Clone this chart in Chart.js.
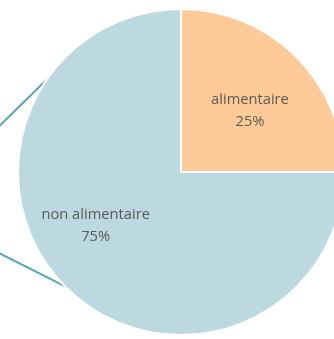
<!DOCTYPE html>
<html>
<head>
<meta charset="utf-8">
<script src="https://cdn.jsdelivr.net/npm/chart.js@4/dist/chart.umd.min.js"></script>
<style>
    html, body { margin: 0; padding: 0; overflow: hidden; background: #fff; width: 334px; height: 339px; }
    #wrap { position: absolute; left: 0; top: 0; width: 346px; height: 339px; }
</style>
</head>
<body>
<div id="wrap"><canvas id="pie"></canvas></div>
<script>
const categories = ["alimentaire", "non alimentaire"];
const shares = [25, 75];
const sliceColors = ["#fdca98", "#bcd9df"];

// label placement per slice: canvas angle (deg) and fraction of radius
const labelSpots = [
    { angle: -41.5, dist: 0.565 },
    { angle: 147.6, dist: 0.62 }
];

// connector lines that leave the pie to the left
const connectors = {
    id: "connectors",
    beforeDatasetsDraw(chart) {
        const arc = chart.getDatasetMeta(0).data[0];
        if (!arc) return;
        const ctx = chart.ctx;
        const r = arc.outerRadius;
        const lines = [
            { angle: -140.9, slope: -0.98 },
            { angle: 133.5, slope: 0.5 }
        ];
        ctx.save();
        ctx.strokeStyle = "#56a2b6";
        ctx.lineWidth = 2;
        lines.forEach(l => {
            const a = l.angle * Math.PI / 180;
            const px = arc.x + Math.cos(a) * (r - 2);
            const py = arc.y + Math.sin(a) * (r - 2);
            ctx.beginPath();
            ctx.moveTo(px, py);
            ctx.lineTo(-2, py + l.slope * (-2 - px));
            ctx.stroke();
        });
        ctx.restore();
    }
};

const sliceLabels = {
    id: "sliceLabels",
    afterDatasetsDraw(chart) {
        const ctx = chart.ctx;
        const meta = chart.getDatasetMeta(0);
        ctx.save();
        ctx.fillStyle = "#595959";
        ctx.font = '14.7px "Open Sans", sans-serif';
        ctx.textAlign = "center";
        ctx.textBaseline = "middle";
        meta.data.forEach((arc, i) => {
            const spot = labelSpots[i];
            const a = spot.angle * Math.PI / 180;
            const x = arc.x + Math.cos(a) * arc.outerRadius * spot.dist;
            const y = arc.y + Math.sin(a) * arc.outerRadius * spot.dist;
            ctx.fillText(categories[i], x, y - 11);
            ctx.fillText(shares[i] + "%", x, y + 11);
        });
        ctx.restore();
    }
};

new Chart(document.getElementById("pie"), {
    type: "pie",
    data: {
        labels: categories,
        datasets: [{
            data: shares,
            backgroundColor: sliceColors,
            borderColor: "#ffffff",
            borderWidth: 2
        }]
    },
    options: {
        responsive: true,
        maintainAspectRatio: false,
        animation: false,
        layout: { padding: { left: 17, top: 8, right: 1, bottom: 3 } },
        plugins: {
            legend: { display: false },
            tooltip: { enabled: false }
        }
    },
    plugins: [connectors, sliceLabels]
});
</script>
</body>
</html>
